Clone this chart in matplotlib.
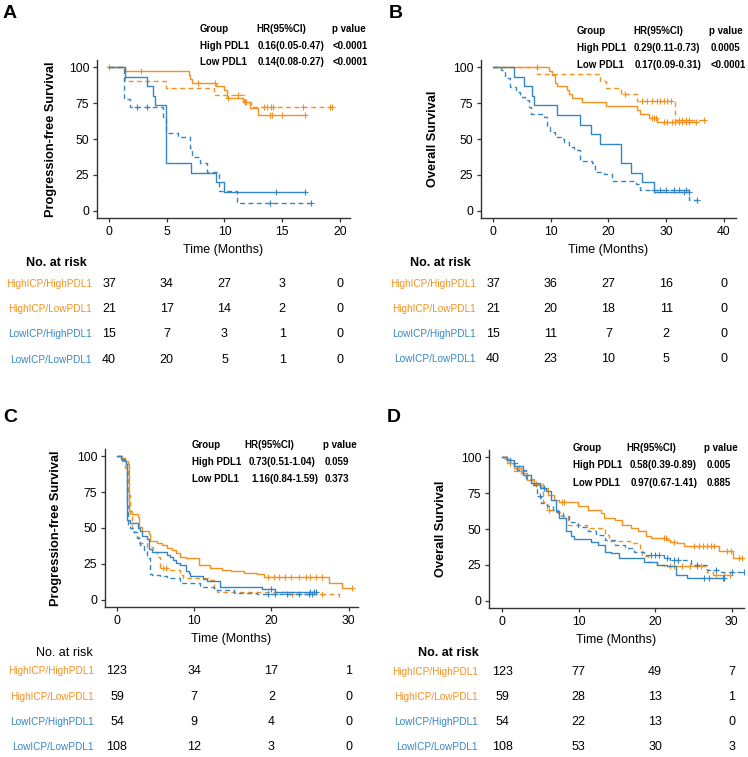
import numpy as np
import matplotlib
matplotlib.use("Agg")
import matplotlib.pyplot as plt
from matplotlib.transforms import blended_transform_factory

plt.rcParams['font.family'] = ['Liberation Sans', 'DejaVu Sans']

# 图像尺寸（像素）
W, H = 748, 757
ORANGE = '#F7901E'
BLUE = '#3387C8'

GROUPS = ['HighICP/HighPDL1', 'HighICP/LowPDL1', 'LowICP/HighPDL1', 'LowICP/LowPDL1']

# ---------------- A: PFS (small cohort) ----------------
a_hh_t = [0, 1.4, 6.9, 7.0, 7.2, 9.3, 10.0, 10.2, 11.6, 12.2, 12.9]
a_hh_s = [100, 97.3, 94.6, 91.9, 89.2, 86.5, 83.8, 78.4, 76.0, 71.5, 66.5]
a_hh_c = [0, 2.8, 7.7, 9.2, 10.3, 11.8, 11.9, 13.9, 14.1, 15.0, 17.0]
a_hl_t = [0, 1.4, 4.9, 9.1, 11.7, 12.3]
a_hl_s = [100, 90.5, 85.7, 80.5, 75.8, 72.3]
a_hl_c = [11.2, 13.4, 13.7, 14.0, 14.2, 16.8, 19.1, 19.3]
a_lh_t = [0, 1.4, 3.3, 3.8, 4.0, 4.95, 7.1, 9.3, 10.0]
a_lh_s = [100, 93.3, 86.7, 80.0, 73.3, 33.3, 26.7, 20.0, 13.3]
a_lh_c = [14.5, 17.0]
a_ll_t = [0, 1.3, 1.8, 4.7, 4.9, 6.0, 7.0, 7.2, 7.9, 8.5, 9.5, 11.1]
a_ll_s = [100, 77.5, 72.5, 65.0, 54.4, 51.6, 43.5, 37.7, 33.0, 27.2, 13.7, 5.6]
a_ll_c = [2.4, 3.3, 13.9, 17.5]
a_times = [0, 5, 10, 15, 20]
a_risk = [[37, 34, 27, 3, 0], [21, 17, 14, 2, 0], [15, 7, 3, 1, 0], [40, 20, 5, 1, 0]]
a_hr = [['Group', 'HR(95%CI)', 'p value'],
        ['High PDL1', '0.16(0.05-0.47)', '<0.0001'],
        ['Low PDL1', '0.14(0.08-0.27)', '<0.0001']]

# ---------------- B: OS (small cohort) ----------------
b_hh_t = [0, 9.65, 10.2, 10.8, 11.1, 12.8, 13.1, 13.7, 15.4, 19.5, 25.0, 25.5, 27.0, 28.4]
b_hh_s = [100, 97.3, 94.6, 89.2, 86.5, 83.8, 81.1, 78.4, 75.7, 73.0, 70.3, 67.6, 64.9, 62.0]
b_hh_c = [7.6, 27.6, 27.9, 28.2, 29.6, 30.2, 31.0, 31.6, 32.2, 32.8, 33.4, 33.9, 35.1]
b_hl_t = [0, 7.6, 18.6, 19.5, 22.1, 25.0, 31.6]
b_hl_s = [100, 95.2, 90.5, 85.7, 81.0, 76.2, 63.0]
b_hl_c = [22.9, 25.8, 26.7, 27.6, 28.4, 29.0, 29.6, 30.2, 30.8, 32.2, 32.8, 33.4, 33.9, 36.5]
b_lh_t = [0, 3.6, 5.3, 6.8, 7.05, 11.1, 15.1, 16.9, 18.6, 22.1, 23.9, 25.8, 27.9]
b_lh_s = [100, 93.3, 86.7, 80.0, 73.3, 66.7, 60.0, 53.3, 46.7, 33.3, 26.7, 20.0, 13.3]
b_lh_c = [33.1, 33.9]
b_ll_t = [0, 1.3, 2.1, 3.0, 3.9, 4.7, 5.6, 6.2, 6.5, 8.8, 9.4, 9.9, 10.8, 11.7, 12.3, 13.1,
          14.0, 15.1, 17.2, 17.6, 19.2, 20.6, 24.7, 25.5, 33.9]
b_ll_s = [100, 97.7, 92.1, 86.3, 82.8, 79.3, 77.0, 72.3, 67.7, 65.3, 58.6, 55.0, 51.4, 49.8, 48.1, 44.7,
          42.3, 34.9, 33.0, 27.4, 26.0, 20.5, 18.4, 14.9, 7.4]
b_ll_c = [27.9, 29.0, 29.9, 31.3, 32.2, 33.4, 35.4]
b_times = [0, 10, 20, 30, 40]
b_risk = [[37, 36, 27, 16, 0], [21, 20, 18, 11, 0], [15, 11, 7, 2, 0], [40, 23, 10, 5, 0]]
b_hr = [['Group', 'HR(95%CI)', 'p value'],
        ['High PDL1', '0.29(0.11-0.73)', '0.0005'],
        ['Low PDL1', '0.17(0.09-0.31)', '<0.0001']]

# ---------------- C: PFS (large cohort) ----------------
c_hh_t = [0, 0.6, 1.0, 1.4, 1.5, 2.0, 2.7, 2.8, 3.2, 4.1, 4.3, 5.2, 5.8, 6.5, 7.1, 7.6, 8.2, 8.9,
          10.6, 12.1, 13.6, 14.7, 16.4, 18.1, 19.0, 27.4, 29.1]
c_hh_s = [100, 98.4, 96.7, 94.3, 61.8, 59.7, 57.4, 50.5, 48.1, 46.0, 40.7, 39.4, 38.0, 36.1, 34.5, 32.5,
          30.1, 28.9, 24.3, 22.5, 20.8, 19.8, 19.0, 17.8, 15.7, 11.6, 8.1]
c_hh_c = [19.5, 20.3, 21.0, 21.7, 22.5, 23.5, 24.5, 25.0, 25.8, 26.5, 30.4]
c_hl_t = [0, 0.7, 1.1, 1.4, 1.7, 2.0, 2.6, 2.8, 3.9, 4.7, 5.2, 5.6, 6.5, 8.2, 8.5, 12.1, 12.5,
          13.0, 21.8, 28.7]
c_hl_s = [100, 96.6, 91.5, 72.9, 59.3, 47.5, 44.0, 39.4, 37.0, 33.6, 30.0, 22.5, 20.5, 17.4, 15.0,
          13.9, 8.1, 5.8, 3.9, 0]
c_hl_c = [6.0, 6.3, 22.6, 26.6]
c_lh_t = [0, 0.5, 1.0, 1.2, 1.3, 1.7, 2.7, 3.0, 3.2, 3.9, 4.1, 4.5, 6.5, 6.9, 7.3, 7.6, 8.2, 8.9,
          9.3, 9.5, 11.2, 11.6, 13.4, 18.8, 20.5]
c_lh_s = [100, 98.1, 96.3, 94.4, 55.5, 53.7, 50.0, 48.1, 44.4, 42.6, 35.2, 33.3, 31.5, 29.6, 27.8,
          25.9, 24.1, 20.4, 18.5, 16.7, 14.8, 13.0, 9.3, 7.4, 5.6]
c_lh_c = [20.0, 25.0, 25.5, 25.8]
c_ll_t = [0, 0.6, 1.0, 1.3, 1.4, 1.7, 2.2, 2.6, 3.0, 3.5, 3.9, 4.3, 4.5, 5.6, 6.5, 8.2, 10.8,
          12.5, 15.1, 18.1]
c_ll_s = [100, 97.2, 94.4, 65.0, 52.0, 50.0, 47.5, 43.0, 38.0, 35.0, 29.0, 18.0, 17.4, 16.6, 15.5,
          11.5, 9.3, 7.0, 4.6, 3.9]
c_ll_c = [19.5, 20.5, 22.0, 23.5, 24.8, 25.2]
c_times = [0, 10, 20, 30]
c_risk = [[123, 34, 17, 1], [59, 7, 2, 0], [54, 9, 4, 0], [108, 12, 3, 0]]
c_hr = [['Group', 'HR(95%CI)', 'p value'],
        ['High PDL1', '0.73(0.51-1.04)', '0.059'],
        ['Low PDL1', '1.16(0.84-1.59)', '0.373']]

# ---------------- D: OS (large cohort) ----------------
d_hh_t = [0, 0.5, 1.0, 1.6, 2.5, 3.3, 4.2, 5.1, 6.0, 6.8, 7.5, 9.9, 11.2, 12.9, 13.3, 14.7, 15.7,
          16.8, 17.7, 18.8, 19.4, 21.6, 22.0, 22.9, 23.8, 28.3, 30.1]
d_hh_s = [100, 98.8, 95.8, 92.3, 88.9, 84.2, 80.7, 78.4, 73.8, 70.3, 68.7, 65.7, 63.3, 61.0, 57.5,
          56.4, 52.9, 50.6, 48.3, 44.8, 43.6, 42.5, 41.3, 40.1, 38.5, 35.0, 29.7]
d_hh_c = [0.7, 2.2, 7.8, 8.1, 21.2, 21.4, 22.5, 25.1, 25.7, 26.2, 26.8, 27.3, 27.7, 29.4, 29.9,
          31.0, 31.4]
d_hl_t = [0, 0.7, 1.6, 3.1, 4.2, 5.3, 5.9, 6.8, 7.7, 8.6, 11.1, 13.5, 14.0, 16.7, 18.0, 18.3,
          19.0, 20.3, 21.2, 26.8, 27.5]
d_hl_s = [100, 96.0, 90.0, 85.0, 81.0, 69.0, 63.0, 62.0, 59.0, 53.0, 50.6, 45.9, 41.8, 40.0, 35.5,
          30.9, 27.4, 25.1, 24.0, 20.4, 18.0]
d_hl_c = [1.0, 2.5, 4.5, 6.2, 22.0, 22.5, 23.5, 24.5, 25.5, 26.0, 28.0, 29.0, 29.8]
d_lh_t = [0, 0.7, 1.6, 2.7, 3.8, 4.9, 5.7, 6.4, 7.0, 7.5, 8.3, 9.0, 9.4, 11.6, 12.5, 13.4, 14.2,
          15.3, 18.6, 20.3, 21.6, 22.7, 24.2]
d_lh_s = [100, 98.0, 93.5, 87.7, 81.9, 78.4, 76.6, 70.3, 62.2, 57.5, 48.3, 44.8, 43.2, 41.3, 39.0,
          34.3, 33.2, 29.7, 27.4, 25.1, 24.0, 18.1, 15.8]
d_lh_c = [5.5, 26.4, 27.0, 28.8, 29.0]
d_ll_t = [0, 1.1, 2.0, 3.1, 3.8, 4.6, 5.1, 5.9, 6.6, 7.3, 7.9, 8.8, 9.9, 11.2, 12.3, 13.4, 14.7,
          16.0, 17.3, 18.6, 21.2, 22.0, 24.7, 26.8, 28.6]
d_ll_s = [100, 95.8, 91.2, 85.4, 80.7, 72.6, 68.0, 65.7, 63.3, 61.0, 58.7, 55.2, 51.7, 48.3, 45.9,
          42.5, 39.0, 36.7, 34.3, 32.0, 29.7, 28.5, 25.1, 21.6, 20.4]
d_ll_c = [5.0, 19.5, 20.0, 20.5, 21.5, 22.5, 23.0, 25.5, 28.0, 30.0, 31.6]
d_times = [0, 10, 20, 30]
d_risk = [[123, 77, 49, 7], [59, 28, 13, 1], [54, 22, 13, 0], [108, 53, 30, 3]]
d_hr = [['Group', 'HR(95%CI)', 'p value'],
        ['High PDL1', '0.58(0.39-0.89)', '0.005'],
        ['Low PDL1', '0.97(0.67-1.41)', '0.885']]

STYLES = [(ORANGE, '-'), (ORANGE, (0, (3.5, 2.5))), (BLUE, '-'), (BLUE, (0, (3.5, 2.5)))]

fig = plt.figure(figsize=(W / 100, H / 100), dpi=100)


def fx(px):
    return px / W


def fy(py):
    return 1 - py / H


def km_axes(x0, y0, x1, y1, xlim, xticks, ylabel, ylabel_x):
    ax = fig.add_axes([fx(x0), fy(y1), (x1 - x0) / W, (y1 - y0) / H])
    ax.set_xlim(*xlim)
    ax.set_ylim(-4.9, 104.9)
    ax.set_xticks(xticks)
    ax.set_yticks([0, 25, 50, 75, 100])
    for s in ['top', 'right']:
        ax.spines[s].set_visible(False)
    for s in ['left', 'bottom']:
        ax.spines[s].set_linewidth(1.0)
        ax.spines[s].set_color('#333333')
    ax.tick_params(labelsize=8.8, length=3, width=0.9, color='#333333', pad=2.5)
    ax.set_ylabel(ylabel, fontsize=9.2, fontweight='bold')
    ax.yaxis.set_label_coords(ylabel_x, 0.5)
    return ax


def draw_curves(ax, curves):
    for (t, s, c), (col, ls) in zip(curves, STYLES):
        t = np.array(t, float)
        s = np.array(s, float)
        end = max(t[-1], max(c) if len(c) else t[-1])
        ax.plot(np.append(t, end), np.append(s, s[-1]), drawstyle='steps-post',
                color=col, ls=ls, lw=1.0)
        if len(c):
            c = np.array(c, float)
            sc = s[np.searchsorted(t, c, side='right') - 1]
            ax.plot(c, sc, ls='none', marker='+', ms=4.5, mew=0.8, color=col)


def hr_table(rows, x_cols, ys):
    for r, (row, y) in enumerate(zip(rows, ys)):
        for j, txt in enumerate(row):
            fig.text(fx(x_cols[r][j]), fy(y), txt, fontsize=7, fontweight='bold',
                     ha='left', va='center')


def ax_center(ax):
    b = ax.get_position()
    return (b.x0 + b.x1) / 2 * W


def risk_table(ax, times, risk, head_x, head_y, head_bold, lab_x, row_ys, xlab_y):
    fig.text(fx(ax_center(ax)), fy(xlab_y), 'Time (Months)', fontsize=9, ha='center', va='center')
    fig.text(fx(head_x), fy(head_y), 'No. at risk', fontsize=9,
             fontweight='bold' if head_bold else 'normal', ha='center', va='center')
    tr = blended_transform_factory(ax.transData, fig.transFigure)
    for g, counts, y, (col, _) in zip(GROUPS, risk, row_ys, STYLES):
        fig.text(fx(lab_x), fy(y), g, fontsize=7.2, color=col, ha='right', va='center')
        for tt, n in zip(times, counts):
            fig.text(tt, fy(y), str(n), fontsize=9, ha='center', va='center', transform=tr)


# ---- Panel A ----
axA = km_axes(97, 60, 350, 218, (-1.04, 20.87), a_times, 'Progression-free Survival', -0.158)
draw_curves(axA, [(a_hh_t, a_hh_s, a_hh_c), (a_hl_t, a_hl_s, a_hl_c),
                  (a_lh_t, a_lh_s, a_lh_c), (a_ll_t, a_ll_s, a_ll_c)])
hr_table(a_hr, [[200, 256, 332], [200, 258, 333], [200, 258, 333]], [29, 46, 62])
risk_table(axA, a_times, a_risk, 56, 263, True, 92, [284, 309, 334, 360], 250)
fig.text(fx(3), fy(14), 'A', fontsize=14, fontweight='bold', ha='left', va='center')

# ---- Panel B ----
axB = km_axes(481, 60, 736, 218, (-2.08, 42.1), b_times, 'Overall Survival', -0.165)
draw_curves(axB, [(b_hh_t, b_hh_s, b_hh_c), (b_hl_t, b_hl_s, b_hl_c),
                  (b_lh_t, b_lh_s, b_lh_c), (b_ll_t, b_ll_s, b_ll_c)])
hr_table(b_hr, [[577, 633, 709], [577, 634, 711], [577, 635, 711]], [31, 48, 65])
risk_table(axB, b_times, b_risk, 440, 263, True, 476, [284, 309, 334, 359], 250)
fig.text(fx(389), fy(14), 'B', fontsize=14, fontweight='bold', ha='left', va='center')

# ---- Panel C ----
axC = km_axes(105, 449, 358, 607, (-1.55, 31.2), c_times, 'Progression-free Survival', -0.17)
draw_curves(axC, [(c_hh_t, c_hh_s, c_hh_c), (c_hl_t, c_hl_s, c_hl_c),
                  (c_lh_t, c_lh_s, c_lh_c), (c_ll_t, c_ll_s, c_ll_c)])
hr_table(c_hr, [[192, 244, 323], [192, 249, 325], [192, 251, 325]], [445, 462, 479])
risk_table(axC, c_times, c_risk, 64, 653, False, 94, [671, 697, 722, 747], 639)
fig.text(fx(3), fy(418), 'C', fontsize=14, fontweight='bold', ha='left', va='center')

# ---- Panel D ----
axD = km_axes(489, 450, 744, 608, (-1.7, 31.6), d_times, 'Overall Survival', -0.165)
draw_curves(axD, [(d_hh_t, d_hh_s, d_hh_c), (d_hl_t, d_hl_s, d_hl_c),
                  (d_lh_t, d_lh_s, d_lh_c), (d_ll_t, d_ll_s, d_ll_c)])
hr_table(d_hr, [[573, 626, 704], [573, 630, 707], [573, 631, 707]], [448, 465, 483])
risk_table(axD, d_times, d_risk, 448, 653, True, 478, [672, 697, 722, 747], 640)
fig.text(fx(387), fy(418), 'D', fontsize=14, fontweight='bold', ha='left', va='center')

fig.savefig('out.png', dpi=100)
